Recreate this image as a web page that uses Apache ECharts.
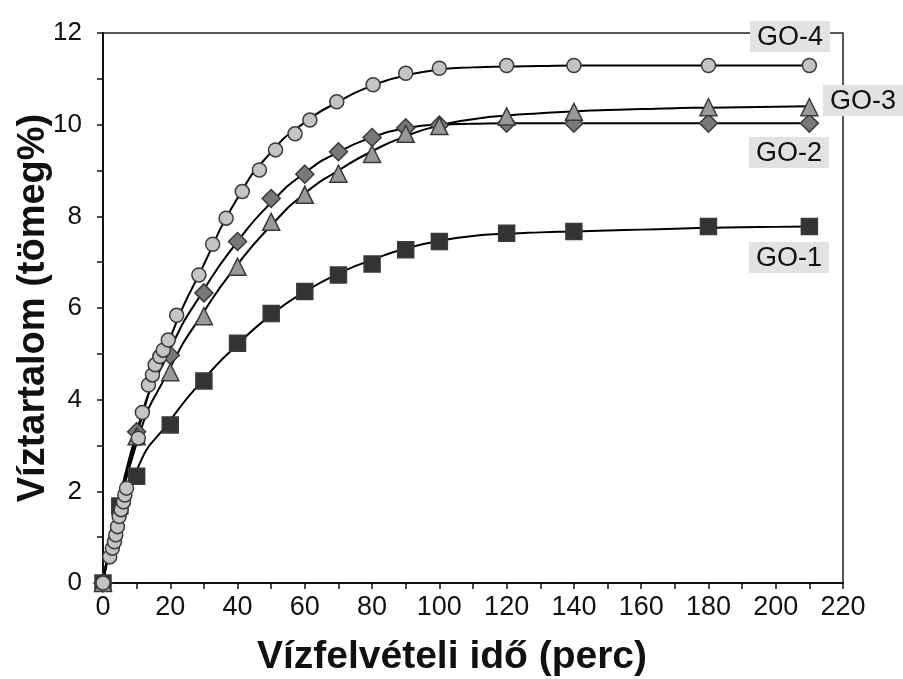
<!DOCTYPE html>
<html>
<head>
<meta charset="utf-8">
<script src="https://cdn.jsdelivr.net/npm/echarts@6/dist/echarts.min.js"></script>
<style>
html,body{margin:0;padding:0;background:#fff;}
#chart{width:903px;height:679px;}
</style>
</head>
<body>
<div id="chart"></div>
<script>
// ---- Data: measured points ----
var seriesNames = ['GO-1', 'GO-2', 'GO-3', 'GO-4'];

var timeGO1 = [0, 5, 10, 20, 30, 40, 50, 60, 70, 80, 90, 100, 120, 140, 180, 210];
var waterGO1 = [0, 1.68, 2.33, 3.45, 4.41, 5.23, 5.88, 6.36, 6.72, 6.96, 7.27, 7.45, 7.63, 7.67, 7.78, 7.78];

var timeGO2 = [0, 10, 20, 30, 40, 50, 60, 70, 80, 90, 100, 120, 140, 180, 210];
var waterGO2 = [0, 3.3, 4.97, 6.33, 7.45, 8.39, 8.92, 9.41, 9.72, 9.93, 9.99, 10.03, 10.03, 10.03, 10.03];

var timeGO3 = [0, 10, 20, 30, 40, 50, 60, 70, 80, 90, 100, 120, 140, 180, 210];
var waterGO3 = [0, 3.2, 4.6, 5.82, 6.9, 7.88, 8.47, 8.93, 9.36, 9.8, 9.97, 10.18, 10.28, 10.38, 10.38];

var timeGO4 = [0, 2, 2.8, 3.4, 3.8, 4.3, 4.8, 5.4, 6.1, 6.5, 7, 10.5, 11.7, 13.5, 14.7, 15.5, 16.9, 17.9, 19.4, 21.9, 28.5, 32.6, 36.6, 41.4, 46.5, 51.3, 57.1, 61.5, 69.5, 80.3, 90, 100, 120, 140, 180, 210];
var waterGO4 = [0, 0.57, 0.76, 0.9, 1.05, 1.23, 1.45, 1.6, 1.77, 1.92, 2.07, 3.16, 3.72, 4.32, 4.54, 4.76, 4.94, 5.08, 5.3, 5.84, 6.72, 7.39, 7.96, 8.54, 9.01, 9.45, 9.8, 10.1, 10.5, 10.87, 11.12, 11.23, 11.29, 11.29, 11.29, 11.29];

// ---- Data: fitted curves (evenly spaced in time) ----
var fitTime = [0, 10, 20, 30, 40, 50, 60, 70, 80, 90, 100, 110, 120, 130, 140, 150, 160, 170, 180, 190, 200, 210];
var fitGO1 = [0, 2.45, 3.55, 4.45, 5.2, 5.85, 6.35, 6.75, 7.05, 7.3, 7.46, 7.57, 7.62, 7.65, 7.67, 7.69, 7.71, 7.73, 7.75, 7.76, 7.77, 7.78];
var fitGO2 = [0, 3.3, 5.1, 6.4, 7.45, 8.3, 8.95, 9.4, 9.72, 9.92, 10.0, 10.02, 10.03, 10.03, 10.03, 10.03, 10.03, 10.03, 10.03, 10.03, 10.03, 10.03];
var fitGO3 = [0, 3.05, 4.7, 5.92, 6.95, 7.8, 8.5, 9.0, 9.42, 9.75, 9.98, 10.12, 10.2, 10.25, 10.29, 10.32, 10.34, 10.36, 10.37, 10.38, 10.39, 10.4];
var fitGO4 = [0, 3.2, 5.35, 6.95, 8.4, 9.4, 10.05, 10.5, 10.85, 11.07, 11.2, 11.25, 11.27, 11.28, 11.29, 11.29, 11.29, 11.29, 11.29, 11.29, 11.29, 11.29];

var xTitle = 'Vízfelvételi idő (perc)';
var yTitle = 'Víztartalom (tömeg%)';

function pairs(xs, ys) { return xs.map(function (x, i) { return [x, ys[i]]; }); }

var FONT = '"Liberation Sans", Arial, sans-serif';

var chart = echarts.init(document.getElementById('chart'), null, {renderer: 'canvas'});

function fitSeries(name, ys) {
  return {
    name: name + ' fit', type: 'line', data: pairs(fitTime, ys),
    smooth: 0.6, symbol: 'none', z: 3,
    lineStyle: {color: '#000', width: 2}, emphasis: {disabled: true}, silent: true
  };
}
function ptSeries(name, data, symbol, size, fill, z) {
  return {
    name: name, type: 'scatter', data: data, symbol: symbol, symbolSize: size, z: z,
    itemStyle: {color: fill, borderColor: '#3a3a3a', borderWidth: 1.5, opacity: 1},
    emphasis: {disabled: true}
  };
}

var labelStyle = function (txt, x, y) {
  return {
    type: 'text', left: x, top: y, z: 100,
    style: {
      text: txt, font: '27px ' + FONT, fill: '#111',
      backgroundColor: '#e2e2e2', padding: [3, 7, 1, 7]
    }
  };
};

chart.setOption({
  animation: false,
  grid: {left: 103, right: 60, top: 33, bottom: 96, containLabel: false, outerBoundsMode: 'none',
    show: true, borderColor: '#222', borderWidth: 1.5, backgroundColor: 'transparent'},
  xAxis: {
    type: 'value', min: 0, max: 220, interval: 10,
    name: xTitle, nameLocation: 'middle', nameGap: 55, nameMoveOverlap: false,
    nameTextStyle: {fontFamily: FONT, fontSize: 39, fontWeight: 'bold', color: '#111', padding: [0, 42, 0, 0]},
    axisLine: {show: true, onZero: false, lineStyle: {color: '#111', width: 2}},
    axisTick: {show: true, inside: false, length: 6, lineStyle: {color: '#111', width: 1.5}},
    axisLabel: {fontFamily: FONT, fontSize: 27, color: '#111', margin: 11,
      formatter: function (v) { return v % 20 === 0 ? String(v) : ''; }},
    splitLine: {show: false}
  },
  yAxis: {
    type: 'value', min: 0, max: 12, interval: 1,
    name: yTitle, nameLocation: 'middle', nameGap: 50, nameMoveOverlap: false,
    nameTextStyle: {fontFamily: FONT, fontSize: 38, fontWeight: 'bold', color: '#111'},
    axisLine: {show: true, onZero: false, lineStyle: {color: '#111', width: 2}},
    axisTick: {show: true, inside: false, length: 6, lineStyle: {color: '#111', width: 1.5}},
    axisLabel: {fontFamily: FONT, fontSize: 26, color: '#111', margin: 21,
      formatter: function (v) { return v % 2 === 0 ? String(v) : ''; }},
    splitLine: {show: false}
  },
  series: [
    fitSeries(seriesNames[0], fitGO1),
    fitSeries(seriesNames[1], fitGO2),
    fitSeries(seriesNames[2], fitGO3),
    fitSeries(seriesNames[3], fitGO4),
    ptSeries(seriesNames[0], pairs(timeGO1, waterGO1), 'rect', 16, '#333333', 5),
    ptSeries(seriesNames[1], pairs(timeGO2, waterGO2), 'diamond', 18, '#787878', 6),
    ptSeries(seriesNames[2], pairs(timeGO3, waterGO3), 'triangle', 17, '#999999', 7),
    ptSeries(seriesNames[3], pairs(timeGO4, waterGO4), 'circle', 14, '#c4c4c4', 8)
  ],
  graphic: [
    labelStyle(seriesNames[3], 750, 21),
    labelStyle(seriesNames[2], 823, 85),
    labelStyle(seriesNames[1], 749, 137),
    labelStyle(seriesNames[0], 749, 242)
  ]
});
</script>
</body>
</html>
